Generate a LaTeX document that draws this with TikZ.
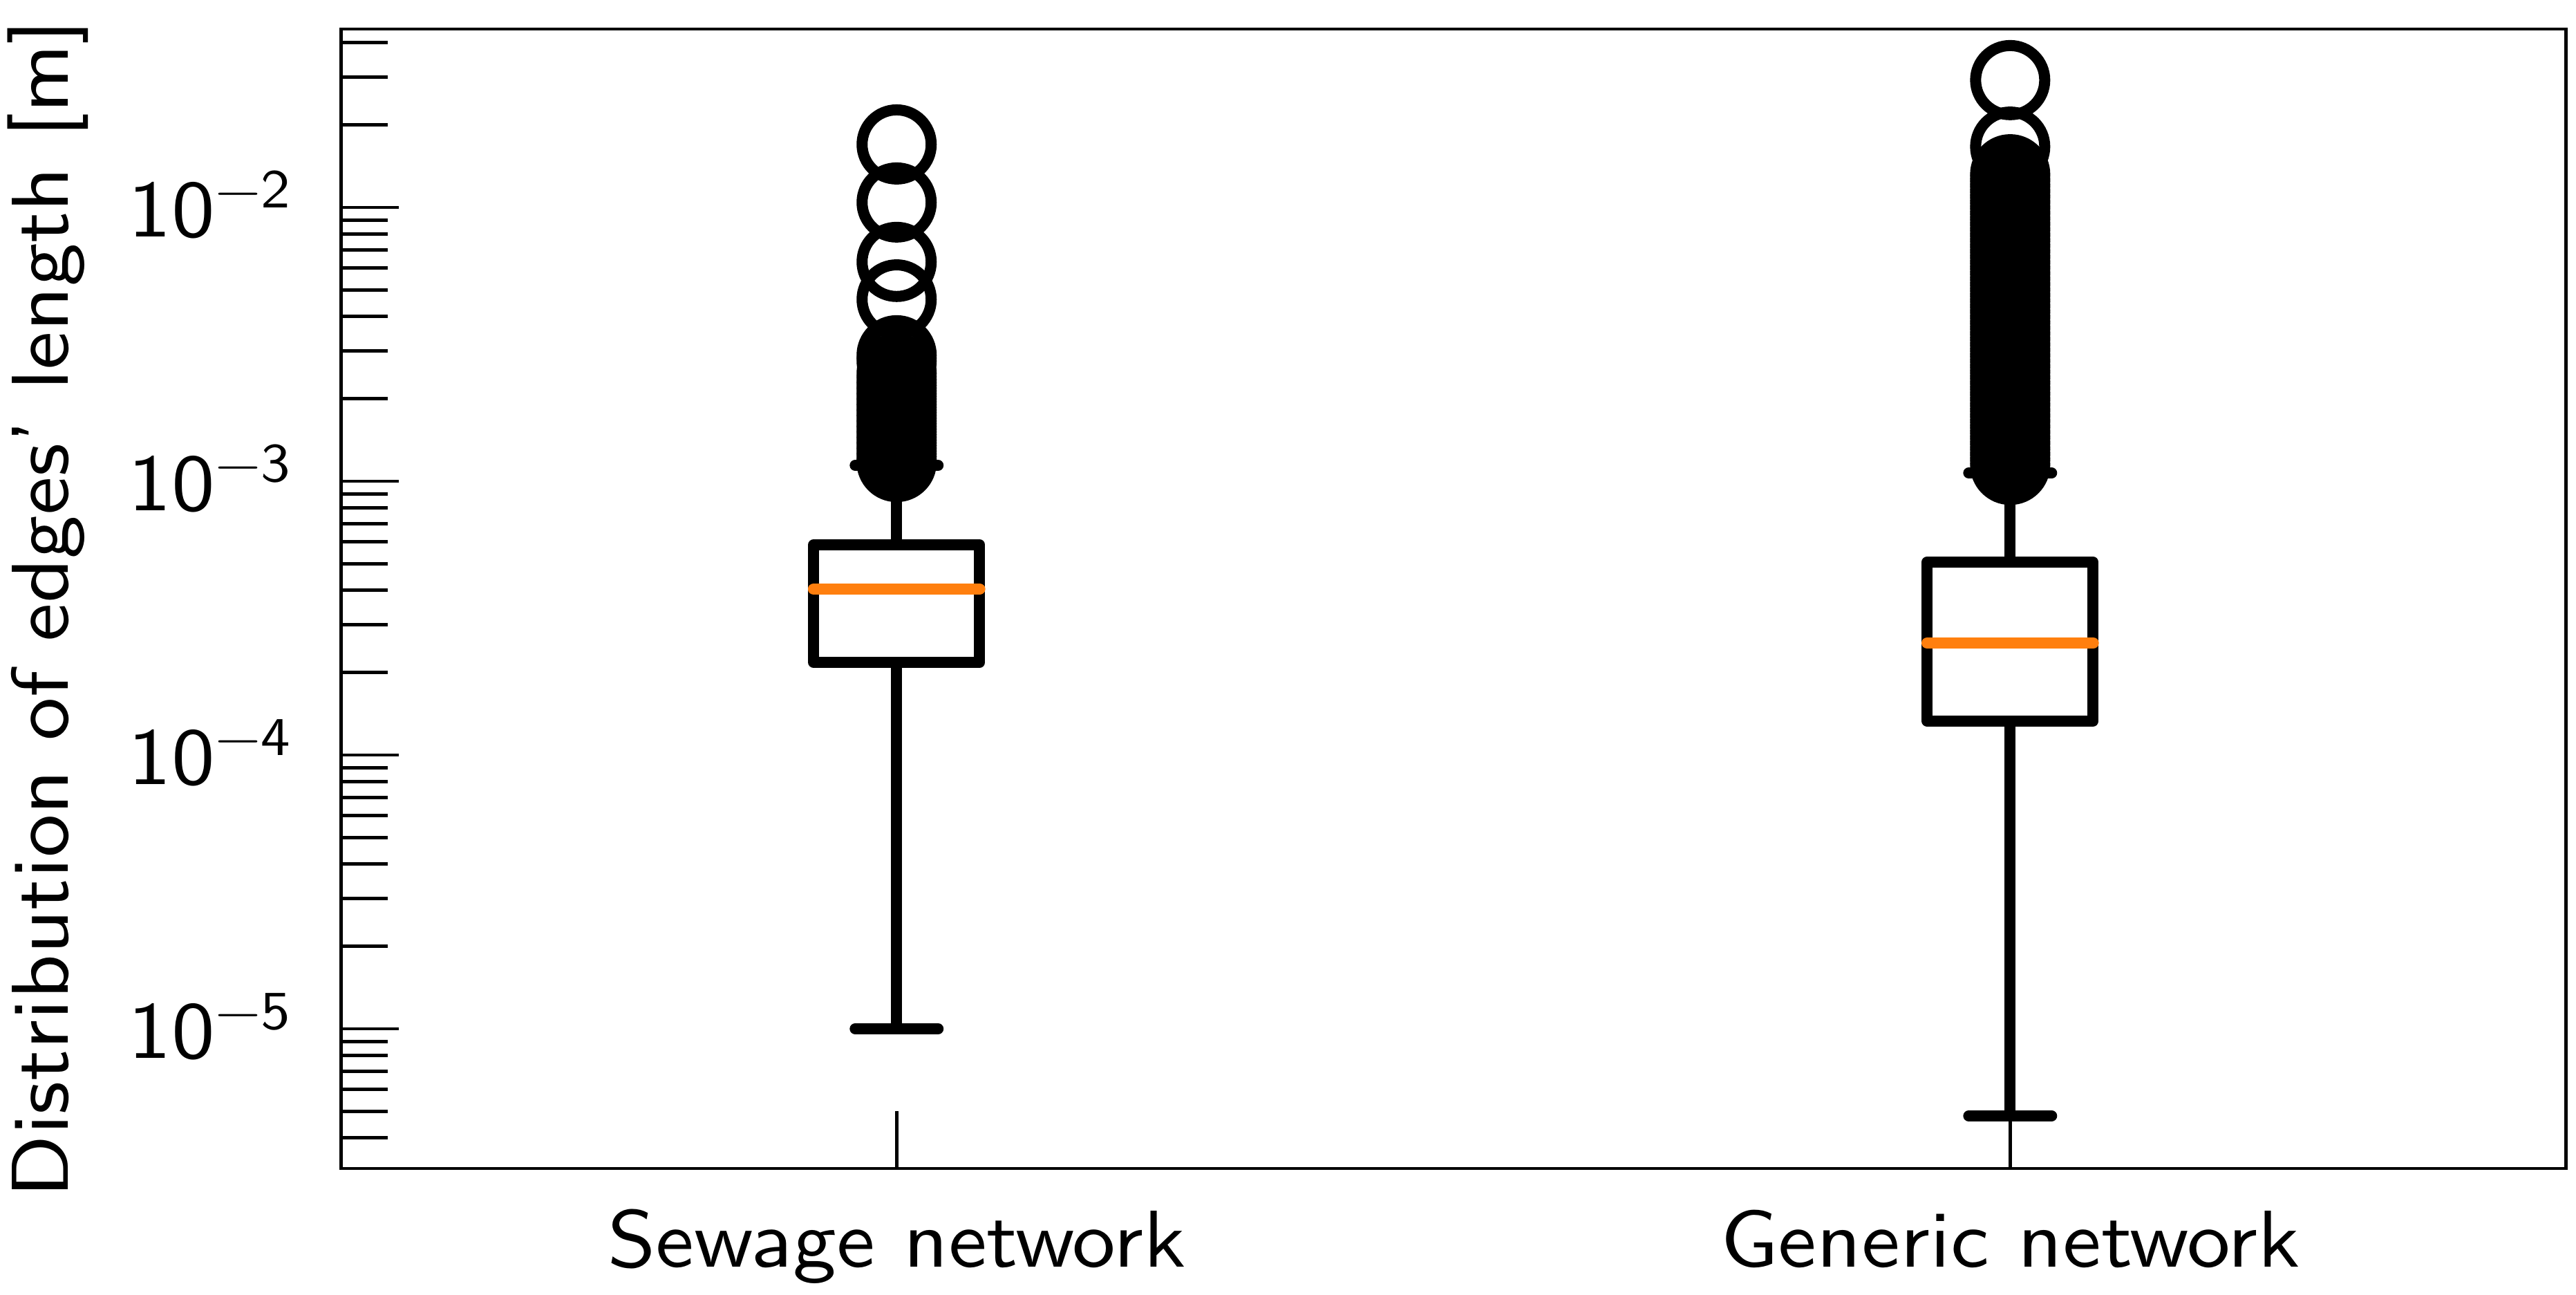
\documentclass[tikz,border=0pt]{standalone}
\usepackage{fontspec}
\setsansfont{lmsans10-regular}[Extension=.otf,FakeStretch=1.075]
\definecolor{medianorange}{HTML}{FF7F0E}
\newcommand{\decade}[1]{10\raisebox{12pt}{\fontsize{22.5}{22.5}\selectfont −#1}}

\begin{document}
\begin{tikzpicture}[
    every node/.style={font=\sffamily\labelfontsize},
    boxline/.style={line width=4.55pt,line join=round},
    capline/.style={line width=4.55pt,line cap=round},
    medianline/.style={line width=4.8pt,line cap=round,draw=medianorange},
    flier/.style={line width=4.55pt},
    tickline/.style={line width=1.4pt}
]
    \pgfmathsetmacro{\axleft}{494}
    \pgfmathsetmacro{\axright}{3715}
    \pgfmathsetmacro{\axbottom}{-5.51}
    \pgfmathsetmacro{\axtop}{-1.3485}
    \pgfmathsetmacro{\halfbox}{120}
    \pgfmathsetmacro{\halfcap}{60}
    \pgfmathsetmacro{\majorlen}{83}
    \pgfmathsetmacro{\minorlen}{67}
    \pgfmathsetmacro{\xticklen}{0.2096}
    \providecommand{\labelfontsize}{\fontsize{33.2}{40}\selectfont}
    \useasboundingbox (0,0) rectangle (37.27,18.72);
    % x in pixels, y in log10 of the length
    \begin{scope}[x=0.01cm,y=3.96cm,yshift=23.64cm]
    % boxes, whiskers, caps and medians
    \foreach \xc/\qlow/\qmed/\qhigh/\wlow/\whigh in {1298/-3.662/-3.394/-3.232/-5.0/-2.942,2910/-3.876/-3.591/-3.295/-5.318/-2.970}{
        \draw[boxline] (\xc-\halfbox,\qlow) rectangle (\xc+\halfbox,\qhigh);
        \draw[boxline] (\xc,\qlow) -- (\xc,\wlow);
        \draw[boxline] (\xc,\qhigh) -- (\xc,\whigh);
        \draw[capline] (\xc-\halfcap,\wlow) -- (\xc+\halfcap,\wlow);
        \draw[capline] (\xc-\halfcap,\whigh) -- (\xc+\halfcap,\whigh);
        \draw[medianline] (\xc-\halfbox,\qmed) -- (\xc+\halfbox,\qmed);
    }
    % outliers
    \foreach \v in {-1.770,-1.982,-2.199,-2.336,-2.540,-2.561,-2.606,-2.63,-2.65,...,-2.93}
        \draw[flier] (1298,\v) circle[radius=0.5cm];
    \foreach \v in {-1.535,-1.778,-1.879,-1.90,-1.92,...,-2.96}
        \draw[flier] (2910,\v) circle[radius=0.5cm];
    % y axis ticks
    \foreach \e [count=\i] in {5,4,3,2}{
        \draw[tickline] (\axleft,-\e) -- ++(\majorlen,0);
        \node[anchor=base east,inner sep=0] (ytick\i) at (421,-\e-0.108) {\decade{\e}};
    }
    \foreach \e in {-6,...,-2}{
        \foreach \m in {2,...,9}{
            \pgfmathsetmacro{\lv}{\e+log10(\m)}
            \ifdim\lv pt>\axbottom pt \ifdim\lv pt<\axtop pt
                \draw[tickline] (\axleft,\lv) -- ++(\minorlen,0);
            \fi\fi
        }
    }
    % x axis ticks and labels
    \draw[tickline] (1298,\axbottom) -- ++(0,\xticklen);
    \draw[tickline] (2910,\axbottom) -- ++(0,\xticklen);
    \node[anchor=base] (sewage) at (1298,-5.871) {Sewage network};
    \node[anchor=base] (generic) at (2910,-5.871) {Generic network};
    \node[rotate=90,anchor=base] (ylabel) at (99,-3.465) {Distribution of edges’ length [m]};
    % frame
    \draw[tickline] (\axleft,\axbottom) rectangle (\axright,\axtop);
    \end{scope}
\end{tikzpicture}
\end{document}
